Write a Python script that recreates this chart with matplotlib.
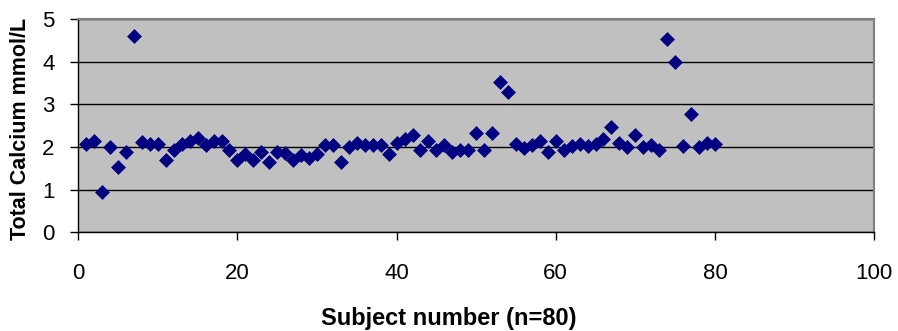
import numpy as np
import matplotlib
matplotlib.use("Agg")
import matplotlib.pyplot as plt

# Subject numbers and total calcium values (mmol/L)
subjects = np.arange(1, 81)
calcium = [
    2.07, 2.13, 0.95, 2.00, 1.53, 1.88, 4.59, 2.12, 2.07, 2.07,
    1.70, 1.92, 2.07, 2.14, 2.20, 2.05, 2.14, 2.14, 1.93, 1.70,
    1.84, 1.70, 1.88, 1.65, 1.88, 1.85, 1.70, 1.81, 1.74, 1.84,
    2.04, 2.04, 1.65, 2.00, 2.09, 2.04, 2.04, 2.04, 1.84, 2.09,
    2.18, 2.28, 1.93, 2.14, 1.93, 2.04, 1.88, 1.93, 1.93, 2.32,
    1.93, 2.32, 3.53, 3.29, 2.07, 1.98, 2.04, 2.15, 1.88, 2.14,
    1.93, 2.02, 2.07, 2.02, 2.07, 2.18, 2.46, 2.09, 2.00, 2.28,
    2.00, 2.04, 1.93, 4.54, 3.99, 2.02, 2.78, 2.00, 2.09, 2.07,
]
xticks = [0, 20, 40, 60, 80, 100]
yticks = [0, 1, 2, 3, 4, 5]

plt.rcParams["font.family"] = ["Liberation Sans", "DejaVu Sans"]

fig = plt.figure(figsize=(8.98, 3.31), dpi=100)
ax = fig.add_axes([0.0872, 0.298, 0.8861, 0.6446])
ax.set_facecolor("#C0C0C0")

ax.scatter(subjects, calcium, marker="D", s=50, color="#000080",
           edgecolors="#000080", linewidths=0.5, zorder=3, clip_on=False)

ax.set_xlim(0, 100)
ax.set_ylim(0, 5)
ax.set_xticks(xticks)
ax.set_yticks(yticks)
ax.yaxis.grid(True, color="black", linewidth=1.0)
ax.set_axisbelow(True)

for side in ("top", "right"):
    ax.spines[side].set_color("#808080")
    ax.spines[side].set_linewidth(1.5)
for side in ("left", "bottom"):
    ax.spines[side].set_color("black")
    ax.spines[side].set_linewidth(1.0)

ax.tick_params(axis="both", direction="out", length=6, width=1, color="black",
               labelsize=16)
ax.tick_params(axis="x", pad=16)
ax.tick_params(axis="y", pad=11)

fig.text(0.5, 0.039, "Subject number (n=80)", fontsize=17, fontweight="bold",
         ha="center", va="center")
fig.text(0.0223, 0.61, "Total Calcium mmol/L", fontsize=15.5, fontweight="bold",
         ha="center", va="center", rotation=90)

fig.savefig("out.png", dpi=100)
